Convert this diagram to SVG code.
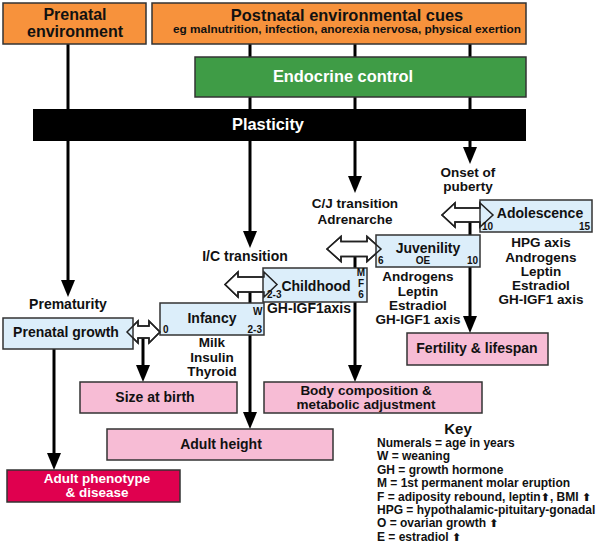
<svg xmlns="http://www.w3.org/2000/svg" width="600" height="554" viewBox="0 0 600 554">
<style>
text{font-family:"Liberation Sans",Arial,Helvetica,sans-serif;font-weight:bold;fill:#111}
.c{text-anchor:middle}
.e{text-anchor:end}
.big{font-size:16.4px}
.big2{font-size:16px}
.wh{fill:#fff}
.box{font-size:14px}
.box2{font-size:13.5px}
.lbl{font-size:14px}
.lbl2{font-size:13.5px}
.sm{font-size:10px}
.key{font-size:12px}
.up{font-family:"DejaVu Sans",sans-serif;font-size:11px}
.org{fill:#F7923C;stroke:#333;stroke-width:1.5}
.grn{fill:#3F9C46;stroke:#333;stroke-width:1.5}
.blu{fill:#DCEEFA;stroke:#333;stroke-width:1.5}
.pnk{fill:#F7BCD5;stroke:#333;stroke-width:1.5}
.red{fill:#E0004F;stroke:#333;stroke-width:1.5}
.ln{stroke:#000;stroke-width:3;fill:none}
.arr{marker-end:url(#ah)}
.dbl{fill:#fff;stroke:#222;stroke-width:1.5}
.dblo{fill:none;stroke:#222;stroke-width:1.5}
</style>
<defs>
<marker id="ah" viewBox="0 0 17 14" refX="7" refY="7" markerWidth="17" markerHeight="14" markerUnits="userSpaceOnUse" orient="auto">
<path d="M0,0 L17,7 L0,14 Z" fill="#000"/>
</marker>
<path id="da1" d="M127,332 L138,321 L138,326 L149,326 L149,321 L160,332 L149,343 L149,338 L138,338 L138,343 Z"/>
<path id="da2" d="M225,284.5 L238,272 L238,277 L264,277 L264,272 L277,284.5 L264,297 L264,292 L238,292 L238,297 Z"/>
<path id="da3" d="M327,249 L341,236.5 L341,241.5 L367,241.5 L367,236.5 L381,249 L367,261.5 L367,256.5 L341,256.5 L341,261.5 Z"/>
<path id="da4" d="M442,215 L455,203 L455,208 L480,208 L480,203 L493,215 L480,227 L480,222 L455,222 L455,227 Z"/>
</defs>
<rect width="600" height="554" fill="#fff"/>

<g id="connectors">
<line class="ln" x1="68" y1="44" x2="68" y2="110"/>
<line class="ln" x1="250" y1="44" x2="250" y2="110"/>
<line class="ln" x1="355" y1="44" x2="355" y2="110"/>
<line class="ln" x1="470" y1="44" x2="470" y2="110"/>
<line class="ln arr" x1="68" y1="140" x2="68" y2="287"/>
<line class="ln arr" x1="250" y1="140" x2="250" y2="238"/>
<line class="ln arr" x1="355" y1="140" x2="355" y2="183"/>
<line class="ln arr" x1="470" y1="140" x2="470" y2="154"/>
<line class="ln arr" x1="143" y1="335" x2="143" y2="372"/>
<line class="ln arr" x1="250" y1="288" x2="250" y2="419"/>
<line class="ln arr" x1="355" y1="252" x2="355" y2="372"/>
<line class="ln arr" x1="470" y1="218" x2="470" y2="323"/>
<line class="ln arr" x1="54" y1="348" x2="54" y2="460"/>
</g>

<g id="prenatal-env">
<rect class="org" x="3" y="3" width="143" height="41"/>
<text class="big2 c" x="75" y="20">Prenatal</text>
<text class="big2 c" x="75" y="37">environment</text>
</g>
<g id="postnatal-env">
<rect class="org" x="152" y="3" width="374" height="41"/>
<text class="big c" x="347" y="21">Postnatal environmental cues</text>
<text class="c" x="347" y="33" font-size="11" textLength="348" lengthAdjust="spacingAndGlyphs">eg malnutrition, infection, anorexia nervosa, physical exertion</text>
</g>
<g id="endocrine">
<rect class="grn" x="195" y="57" width="331" height="40"/>
<text class="big c wh" x="343" y="82">Endocrine control</text>
</g>
<g id="plasticity">
<rect x="33" y="109" width="493" height="32" fill="#000"/>
<text class="big c wh" x="268" y="130">Plasticity</text>
</g>

<g id="labels">
<text class="lbl c" x="68" y="309">Prematurity</text>
<text class="lbl c" x="245" y="261">I/C transition</text>
<text class="lbl2 c" x="355" y="208">C/J transition</text>
<text class="lbl2 c" x="355" y="224">Adrenarche</text>
<text class="lbl2 c" x="468" y="177">Onset of</text>
<text class="lbl2 c" x="468" y="191">puberty</text>
</g>

<g id="prenatal-growth">
<use href="#da1" class="dbl"/>
<rect class="blu" x="3" y="318" width="130" height="31"/>
<text class="box c" x="66" y="337">Prenatal growth</text>
</g>
<g id="infancy">
<use href="#da2" class="dbl"/>
<rect class="blu" x="160" y="303" width="104" height="32"/>
<use href="#da1" class="dblo"/>
<text class="box c" x="212" y="323">Infancy</text>
<text class="sm" x="163" y="333">0</text>
<text class="sm" x="253" y="315">W</text>
<text class="sm e" x="262" y="333">2-3</text>
<text class="lbl2 c" x="212" y="347">Milk</text>
<text class="lbl2 c" x="212" y="362">Insulin</text>
<text class="lbl2 c" x="212" y="376">Thyroid</text>
</g>
<g id="childhood">
<use href="#da3" class="dbl"/>
<rect class="blu" x="263" y="268" width="104" height="34"/>
<use href="#da2" class="dblo"/>
<text class="box c" x="316" y="291">Childhood</text>
<text class="sm" x="267" y="298">2-3</text>
<text class="sm c" x="361" y="276">M</text>
<text class="sm c" x="361" y="287">F</text>
<text class="sm c" x="361" y="298">6</text>
<text class="lbl c" x="309" y="313">GH-IGF1axis</text>
</g>
<g id="juvenility">
<use href="#da4" class="dbl"/>
<rect class="blu" x="376" y="235" width="104" height="32"/>
<use href="#da3" class="dblo"/>
<text class="box c" x="428" y="253">Juvenility</text>
<text class="sm c" x="423" y="264">OE</text>
<text class="sm" x="378" y="264">6</text>
<text class="sm e" x="478" y="264">10</text>
<text class="lbl2 c" x="418" y="281">Androgens</text>
<text class="lbl2 c" x="418" y="296">Leptin</text>
<text class="lbl2 c" x="418" y="310">Estradiol</text>
<text class="lbl2 c" x="418" y="324">GH-IGF1 axis</text>
</g>
<g id="adolescence">
<rect class="blu" x="480" y="200" width="112" height="32"/>
<use href="#da4" class="dblo"/>
<text class="box c" x="540" y="218">Adolescence</text>
<text class="sm" x="482" y="230">10</text>
<text class="sm e" x="590" y="230">15</text>
<text class="lbl2 c" x="541" y="247">HPG axis</text>
<text class="lbl2 c" x="541" y="262">Androgens</text>
<text class="lbl2 c" x="541" y="276">Leptin</text>
<text class="lbl2 c" x="541" y="290">Estradiol</text>
<text class="lbl2 c" x="541" y="304">GH-IGF1 axis</text>
</g>

<g id="fertility">
<rect class="pnk" x="407" y="333" width="141" height="32"/>
<text class="box c" x="477" y="353">Fertility &amp; lifespan</text>
</g>
<g id="size-at-birth">
<rect class="pnk" x="80" y="382" width="157" height="31"/>
<text class="box c" x="155" y="402">Size at birth</text>
</g>
<g id="body-composition">
<rect class="pnk" x="264" y="382" width="218" height="31"/>
<text class="box2 c" x="366" y="395">Body composition &amp;</text>
<text class="box2 c" x="366" y="409">metabolic adjustment</text>
</g>
<g id="adult-height">
<rect class="pnk" x="107" y="429" width="226" height="31"/>
<text class="box c" x="221" y="449">Adult height</text>
</g>
<g id="adult-phenotype">
<rect class="red" x="7" y="470" width="173" height="32"/>
<text class="box2 c wh" x="97" y="483">Adult phenotype</text>
<text class="box2 c wh" x="97" y="497">&amp; disease</text>
</g>

<g id="key">
<text class="c" x="458" y="434" font-size="15">Key</text>
<text class="key" x="377" y="447">Numerals = age in years</text>
<text class="key" x="377" y="460.4">W = weaning</text>
<text class="key" x="377" y="473.8">GH = growth hormone</text>
<text class="key" x="377" y="487.2">M = 1st permanent molar eruption</text>
<text class="key" x="377" y="500.6">F = adiposity rebound, leptin<tspan class="up">⬆</tspan>, BMI <tspan class="up">⬆</tspan></text>
<text class="key" x="377" y="514">HPG = hypothalamic-pituitary-gonadal</text>
<text class="key" x="377" y="527.4">O = ovarian growth <tspan class="up">⬆</tspan></text>
<text class="key" x="377" y="540.8">E = estradiol <tspan class="up">⬆</tspan></text>
</g>
</svg>
